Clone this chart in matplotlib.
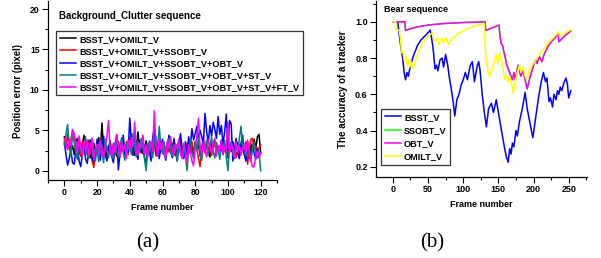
import numpy as np
import matplotlib
matplotlib.use('Agg')
import matplotlib.pyplot as plt
from matplotlib.ticker import MultipleLocator

plt.rcParams['font.family'] = ['Liberation Sans', 'DejaVu Sans']
plt.rcParams['font.weight'] = 'bold'

# ---- panel (a): position error per frame ----
frames_a = np.arange(0, 121)

black = [
    4.2, 3.5, 2.8, 3.9, 2.4, 3.1, 2.0, 3.6, 4.0, 2.5,
    1.8, 3.2, 4.4, 2.9, 2.2, 3.8, 1.6, 2.7, 3.4, 2.1,
    3.0, 4.1, 2.6, 5.9, 2.3, 3.3, 1.9, 2.8, 3.7, 2.2,
    3.1, 2.5, 1.8, 3.6, 2.4, 2.9, 3.8, 2.0, 3.3, 2.7,
    4.0, 2.3, 3.5, 1.9, 3.1, 4.8, 2.6, 3.4, 2.1, 2.9,
    3.7, 2.4, 3.2, 1.7, 2.8, 3.9, 2.5, 3.3, 2.0, 3.6,
    2.7, 3.1, 1.8, 2.9, 3.8, 2.2, 3.4, 2.6, 1.9, 3.2,
    2.5, 3.7, 2.1, 3.0, 2.8, 1.6, 3.5, 2.4, 3.1, 2.0,
    3.6, 2.7, 3.3, 1.8, 2.9, 3.9, 2.3, 3.2, 2.6, 1.7,
    3.4, 2.8, 3.7, 2.2, 3.0, 2.5, 3.8, 2.0, 3.3, 2.7,
    1.6, 3.1, 2.4, 3.6, 2.1, 2.9, 3.5, 1.9, 2.8, 3.4,
    2.2, 3.0, 2.6, 1.5, 3.3, 2.5, 3.9, 2.7, 4.2, 4.5,
    2.3]

red = [
    3.8, 3.0, 4.6, 2.6, 3.9, 5.0, 4.4, 2.2, 3.5, 2.8,
    1.9, 3.6, 2.5, 3.1, 2.0, 3.7, 2.4, 1.2, 0.4, 2.6,
    3.2, 2.1, 3.8, 2.7, 1.9, 3.4, 2.3, 3.0, 2.6, 1.8,
    3.3, 2.9, 2.2, 3.5, 1.7, 2.8, 3.1, 2.4, 3.6, 2.0,
    3.2, 4.5, 2.6, 3.0, 2.1, 3.4, 2.8, 2.3, 3.7, 1.9,
    2.7, 3.3, 2.2, 3.0, 2.5, 3.6, 1.8, 2.9, 3.4, 2.4,
    3.1, 2.0, 2.8, 3.5, 2.3, 3.0, 2.7, 1.9, 3.3, 2.6,
    3.8, 2.2, 3.0, 2.5, 1.7, 3.4, 2.8, 2.1, 3.6, 2.4,
    3.0, 2.6, 1.5, 0.5, 2.7, 3.3, 2.2, 3.8, 2.5, 3.1,
    1.9, 2.8, 3.4, 2.3, 3.0, 2.6, 3.7, 2.0, 3.2, 2.4,
    1.8, 2.9, 3.5, 2.2, 3.1, 1.6, 2.7, 3.3, 2.5, 3.0,
    2.1, 3.6, 0.8, 2.4, 3.9, 4.0, 2.6, 3.1, 2.2, 2.8,
    3.2]

blue = [
    3.5, 2.0, 0.7, 1.5, 2.6, 1.0, 0.8, 2.4, 3.0, 1.2,
    0.5, 2.0, 3.6, 1.4, 0.9, 2.8, 3.8, 1.6, 1.1, 2.3,
    3.9, 2.1, 1.3, 3.4, 4.3, 2.0, 1.2, 3.1, 2.5, 1.7,
    1.0, 3.2, 4.4, 0.1, 2.2, 2.6, 4.4, 1.8, 3.0, 2.3,
    6.5, 3.5, 1.9, 4.5, 2.7, 1.4, 3.8, 2.2, 4.2, 1.6,
    1.0, 3.0, 2.4, 1.2, 4.1, 5.3, 2.1, 3.5, 1.5, 2.8,
    3.9, 2.2, 1.3, 3.3, 4.4, 2.5, 1.6, 4.0, 2.3, 1.2,
    3.1, 4.6, 2.8, 1.5, 3.6, 2.0, 4.2, 3.0, 5.2, 3.8,
    4.6, 5.5, 3.9, 5.0, 4.2, 3.4, 7.1, 4.8, 3.5, 5.6,
    4.3, 6.0, 5.1, 4.0, 6.7, 4.5, 5.6, 3.3, 4.8, 7.0,
    2.5, 6.2, 5.8, 1.2, 2.6, 4.0, 2.1, 1.5, 3.4, 4.4,
    2.0, 1.2, 3.5, 2.6, 1.5, 3.0, 2.2, 1.4, 2.8, 1.6,
    2.2]

teal = [
    3.2, 4.5, 5.7, 3.0, 1.8, 4.6, 3.5, 2.2, 1.4, 3.8,
    2.6, 1.9, 3.4, 4.2, 2.0, 1.5, 3.1, 4.0, 2.5, 1.2,
    2.8, 1.1, 3.6, 2.4, 1.0, 3.9, 2.7, 1.6, 3.2, 2.1,
    1.5, 3.5, 2.4, 1.8, 3.0, 4.1, 2.2, 1.3, 3.3, 2.6,
    3.8, 2.0, 4.6, 2.9, 1.7, 3.5, 2.3, 4.0, 3.1, 1.4,
    0.0, 2.8, 3.7, 2.2, 1.6, 3.4, 4.3, 2.5, 5.5, 3.0,
    2.1, 3.6, 1.5, 2.8, 4.0, 2.3, 1.8, 3.3, 2.6, 1.2,
    3.9, 2.4, 1.6, 3.1, 2.0, 0.0, 2.7, 3.8, 2.2, 1.5,
    3.4, 2.6, 4.1, 2.0, 1.3, 3.2, 2.5, 3.7, 1.9, 2.8,
    4.2, 2.3, 1.6, 3.5, 2.7, 1.4, 3.0, 2.2, 3.8, 1.7,
    0.0, 2.9, 3.6, 2.1, 1.5, 3.3, 2.4, 4.0, 5.5, 3.1,
    2.6, 1.8, 3.4, 2.2, 1.2, 2.8, 3.5, 2.0, 1.6, 2.4,
    0.0]

magenta = [
    4.0, 3.3, 2.6, 3.9, 3.1, 5.1, 4.6, 3.5, 2.2, 4.3,
    3.0, 1.8, 3.6, 2.4, 3.8, 1.9, 2.8, 4.0, 1.3, 2.6,
    3.3, 2.0, 3.5, 2.7, 1.6, 3.1, 4.2, 6.2, 2.5, 1.8,
    3.4, 2.2, 4.5, 2.9, 1.7, 3.6, 2.4, 3.2, 1.5, 3.8,
    2.6, 4.1, 3.0, 6.0, 2.3, 1.9, 3.4, 2.8, 4.4, 2.1,
    3.2, 1.7, 2.9, 3.6, 2.4, 7.4, 3.1, 1.8, 4.0, 2.6,
    3.5, 2.2, 1.6, 3.7, 2.8, 4.2, 2.4, 1.9, 3.3, 2.7,
    3.9, 2.1, 1.5, 3.4, 2.6, 1.0, 3.2, 2.3, 1.2, 0.6,
    2.8, 4.3, 6.5, 3.0, 2.0, 3.6, 2.5, 1.7, 3.9, 2.9,
    2.2, 3.5, 4.0, 1.8, 3.1, 2.4, 3.7, 2.0, 3.0, 2.6,
    6.0, 2.2, 3.4, 2.8, 1.6, 3.6, 2.3, 3.1, 1.9, 2.7,
    3.3, 2.1, 3.8, 2.5, 1.3, 0.5, 0.5, 1.8, 2.4, 1.6,
    2.2]

labels_a = ['BSST_V+OMILT_V', 'BSST_V+OMILT_V+SSOBT_V',
            'BSST_V+OMILT_V+SSOBT_V+OBT_V', 'BSST_V+OMILT_V+SSOBT_V+OBT_V+ST_V',
            'BSST_V+OMILT_V+SSOBT_V+OBT_V+ST_V+FT_V']
colors_a = ['#000000', '#ff0000', '#0000ff', '#008080', '#ff00ff']

# ---- panel (b): tracker accuracy ----
bsst_x = [0, 7, 9, 12, 14, 16, 18, 20, 22, 25, 30, 35, 40, 45, 50, 53, 55, 57, 60, 62,
          64, 67, 70, 72, 75, 78, 80, 83, 86, 88, 91, 94, 97, 100, 103, 106, 110, 113, 116, 120,
          122, 124, 127, 130, 133, 136, 140, 143, 147, 150, 154, 158, 161, 164, 166, 168, 170, 172, 175, 177,
          180, 184, 188, 191, 195, 199, 203, 207, 211, 214, 217, 219, 222, 224, 227, 229, 232, 234, 236, 238,
          240, 243, 246, 248, 250, 253]
bsst_y = [1.0, 1.0, 0.93, 0.84, 0.80, 0.72, 0.68, 0.72, 0.70, 0.76, 0.82, 0.87, 0.90, 0.92, 0.94, 0.955, 0.91, 0.86, 0.74, 0.76,
          0.73, 0.79, 0.80, 0.75, 0.82, 0.76, 0.70, 0.63, 0.55, 0.48, 0.57, 0.60, 0.65, 0.68, 0.72, 0.68, 0.76, 0.78, 0.67, 0.76,
          0.78, 0.73, 0.60, 0.50, 0.42, 0.52, 0.55, 0.50, 0.57, 0.50, 0.41, 0.32, 0.26, 0.225, 0.30, 0.27, 0.33, 0.31, 0.40, 0.37,
          0.45, 0.52, 0.61, 0.52, 0.44, 0.36, 0.47, 0.58, 0.67, 0.72, 0.67, 0.69, 0.56, 0.58, 0.53, 0.60, 0.57, 0.62, 0.60, 0.64,
          0.62, 0.66, 0.69, 0.66, 0.58, 0.62]

obt_x = [0, 17, 18, 25, 35, 50, 70, 100, 131, 132, 140, 151, 152, 154, 156, 158, 160, 162, 164, 166,
         168, 170, 172, 174, 176, 178, 180, 182, 185, 188, 191, 194, 197, 200, 203, 205, 208, 212, 215, 220,
         225, 230, 235, 236, 240, 245, 250, 253]
obt_y = [1.0, 1.0, 0.952, 0.962, 0.972, 0.982, 0.99, 0.996, 1.0, 0.952, 0.965, 0.982, 0.93, 0.88, 0.87, 0.83, 0.80, 0.76, 0.74, 0.72,
         0.70, 0.68, 0.72, 0.68, 0.72, 0.76, 0.73, 0.70, 0.73, 0.68, 0.63, 0.68, 0.72, 0.76, 0.79, 0.77, 0.81, 0.78, 0.82, 0.86,
         0.89, 0.91, 0.935, 0.89, 0.905, 0.925, 0.94, 0.95]
ssobt_x = obt_x
ssobt_y = obt_y

omilt_x = [0, 4, 5, 9, 11, 12, 14, 16, 18, 20, 22, 24, 26, 28, 30, 35, 40, 45, 50, 55,
           57, 59, 63, 65, 69, 72, 75, 79, 85, 95, 105, 115, 128, 130, 131, 133, 136, 138, 141, 144,
           147, 149, 152, 154, 156, 158, 160, 162, 164, 166, 168, 170, 171, 174, 177, 180, 182, 185, 188, 190,
           193, 196, 200, 205, 210, 215, 220, 225, 230, 236, 237, 240, 245, 250, 253]
omilt_y = [1.0, 1.0, 0.955, 0.955, 0.90, 0.83, 0.84, 0.79, 0.82, 0.76, 0.79, 0.75, 0.78, 0.74, 0.76, 0.82, 0.87, 0.90, 0.92, 0.935,
           0.94, 0.89, 0.91, 0.875, 0.91, 0.885, 0.915, 0.875, 0.91, 0.94, 0.96, 0.975, 0.99, 0.99, 0.87, 0.78, 0.72, 0.70, 0.74, 0.78,
           0.82, 0.77, 0.83, 0.80, 0.76, 0.70, 0.68, 0.70, 0.67, 0.70, 0.66, 0.64, 0.605, 0.67, 0.72, 0.76, 0.72, 0.75, 0.70, 0.68,
           0.72, 0.75, 0.77, 0.80, 0.83, 0.85, 0.88, 0.90, 0.92, 0.945, 0.92, 0.93, 0.94, 0.95, 0.955]

W, H = 601, 258
fig = plt.figure(figsize=(W / 100, H / 100), dpi=100)

def px_axes(l, t, r, b):
    return fig.add_axes([l / W, 1 - b / H, (r - l) / W, (b - t) / H])

def style(ax, fs):
    for s in ['top', 'right']:
        ax.spines[s].set_visible(False)
    for s in ['left', 'bottom']:
        ax.spines[s].set_linewidth(0.9)
    ax.tick_params(which='major', direction='out', length=4, width=0.8, labelsize=fs, pad=2)
    ax.tick_params(which='minor', direction='out', length=2, width=0.8)
    for t in ax.get_xticklabels() + ax.get_yticklabels():
        t.set_fontweight('bold')

# panel (a)
ax1 = px_axes(48, 1, 277, 180)
for ys, c, lab in zip([black, red, blue, teal, magenta], colors_a, labels_a):
    ax1.plot(frames_a, ys, color=c, lw=1.1, label=lab)
ax1.set_xlim(-10, 130)
ax1.set_ylim(-1.15, 21.0)
ax1.xaxis.set_major_locator(MultipleLocator(20))
ax1.xaxis.set_minor_locator(MultipleLocator(10))
ax1.yaxis.set_major_locator(MultipleLocator(5))
ax1.yaxis.set_minor_locator(MultipleLocator(2.5))
style(ax1, 6.2)
ax1.set_xlabel('Frame number', fontsize=6.5, fontweight='bold', labelpad=4)
ax1.set_ylabel('Position error (pixel)', fontsize=6.9, fontweight='bold', labelpad=5)
fig.text(59 / W, 1 - 16 / H, 'Background_Clutter sequence', fontsize=7, fontweight='bold',
         ha='left', va='center')
leg1 = ax1.legend(loc='upper left', bbox_to_anchor=(56 / W, 1 - 31 / H), bbox_transform=fig.transFigure,
                  prop={'size': 6.6, 'weight': 'bold'}, frameon=True, fancybox=False,
                  handlelength=1.8, handletextpad=0.3, labelspacing=0.33, borderpad=0.4,
                  borderaxespad=0)
leg1.get_frame().set_edgecolor('black')
leg1.get_frame().set_linewidth(0.9)

# panel (b)
ax2 = px_axes(376, 1, 587, 176.7)
ax2.plot(bsst_x, bsst_y, color='#0000ff', lw=1.1, label='BSST_V')
ax2.plot(ssobt_x, ssobt_y, color='#00ff00', lw=1.1, label='SSOBT_V')
ax2.plot(obt_x, obt_y, color='#ff00ff', lw=1.1, label='OBT_V')
ax2.plot(omilt_x, omilt_y, color='#ffff00', lw=1.1, label='OMILT_V')
ax2.set_xlim(-24, 276)
ax2.set_ylim(0.145, 1.115)
ax2.xaxis.set_major_locator(MultipleLocator(50))
ax2.xaxis.set_minor_locator(MultipleLocator(25))
ax2.yaxis.set_major_locator(MultipleLocator(0.2))
ax2.yaxis.set_minor_locator(MultipleLocator(0.1))
style(ax2, 6.5)
ax2.set_xlabel('Frame number', fontsize=6.5, fontweight='bold', labelpad=4)
ax2.set_ylabel('The accuracy of a tracker', fontsize=7, fontweight='bold', labelpad=5)
fig.text(384 / W, 1 - 9 / H, 'Bear sequence', fontsize=6.5, fontweight='bold', ha='left', va='center')
leg2 = ax2.legend(loc='upper left', bbox_to_anchor=(381 / W, 1 - 109 / H), bbox_transform=fig.transFigure,
                  prop={'size': 6.6, 'weight': 'bold'}, frameon=True, fancybox=False,
                  handlelength=1.8, handletextpad=0.3, labelspacing=0.45, borderpad=0.4,
                  borderaxespad=0)
leg2.get_frame().set_edgecolor('black')
leg2.get_frame().set_linewidth(0.9)

fig.text(148 / W, 1 - 243 / H, '(a)', fontsize=15, family='Liberation Serif', fontweight='normal',
         ha='center', va='center')
fig.text(432 / W, 1 - 243 / H, '(b)', fontsize=15, family='Liberation Serif', fontweight='normal',
         ha='center', va='center')

fig.savefig('out.png', dpi=100)
